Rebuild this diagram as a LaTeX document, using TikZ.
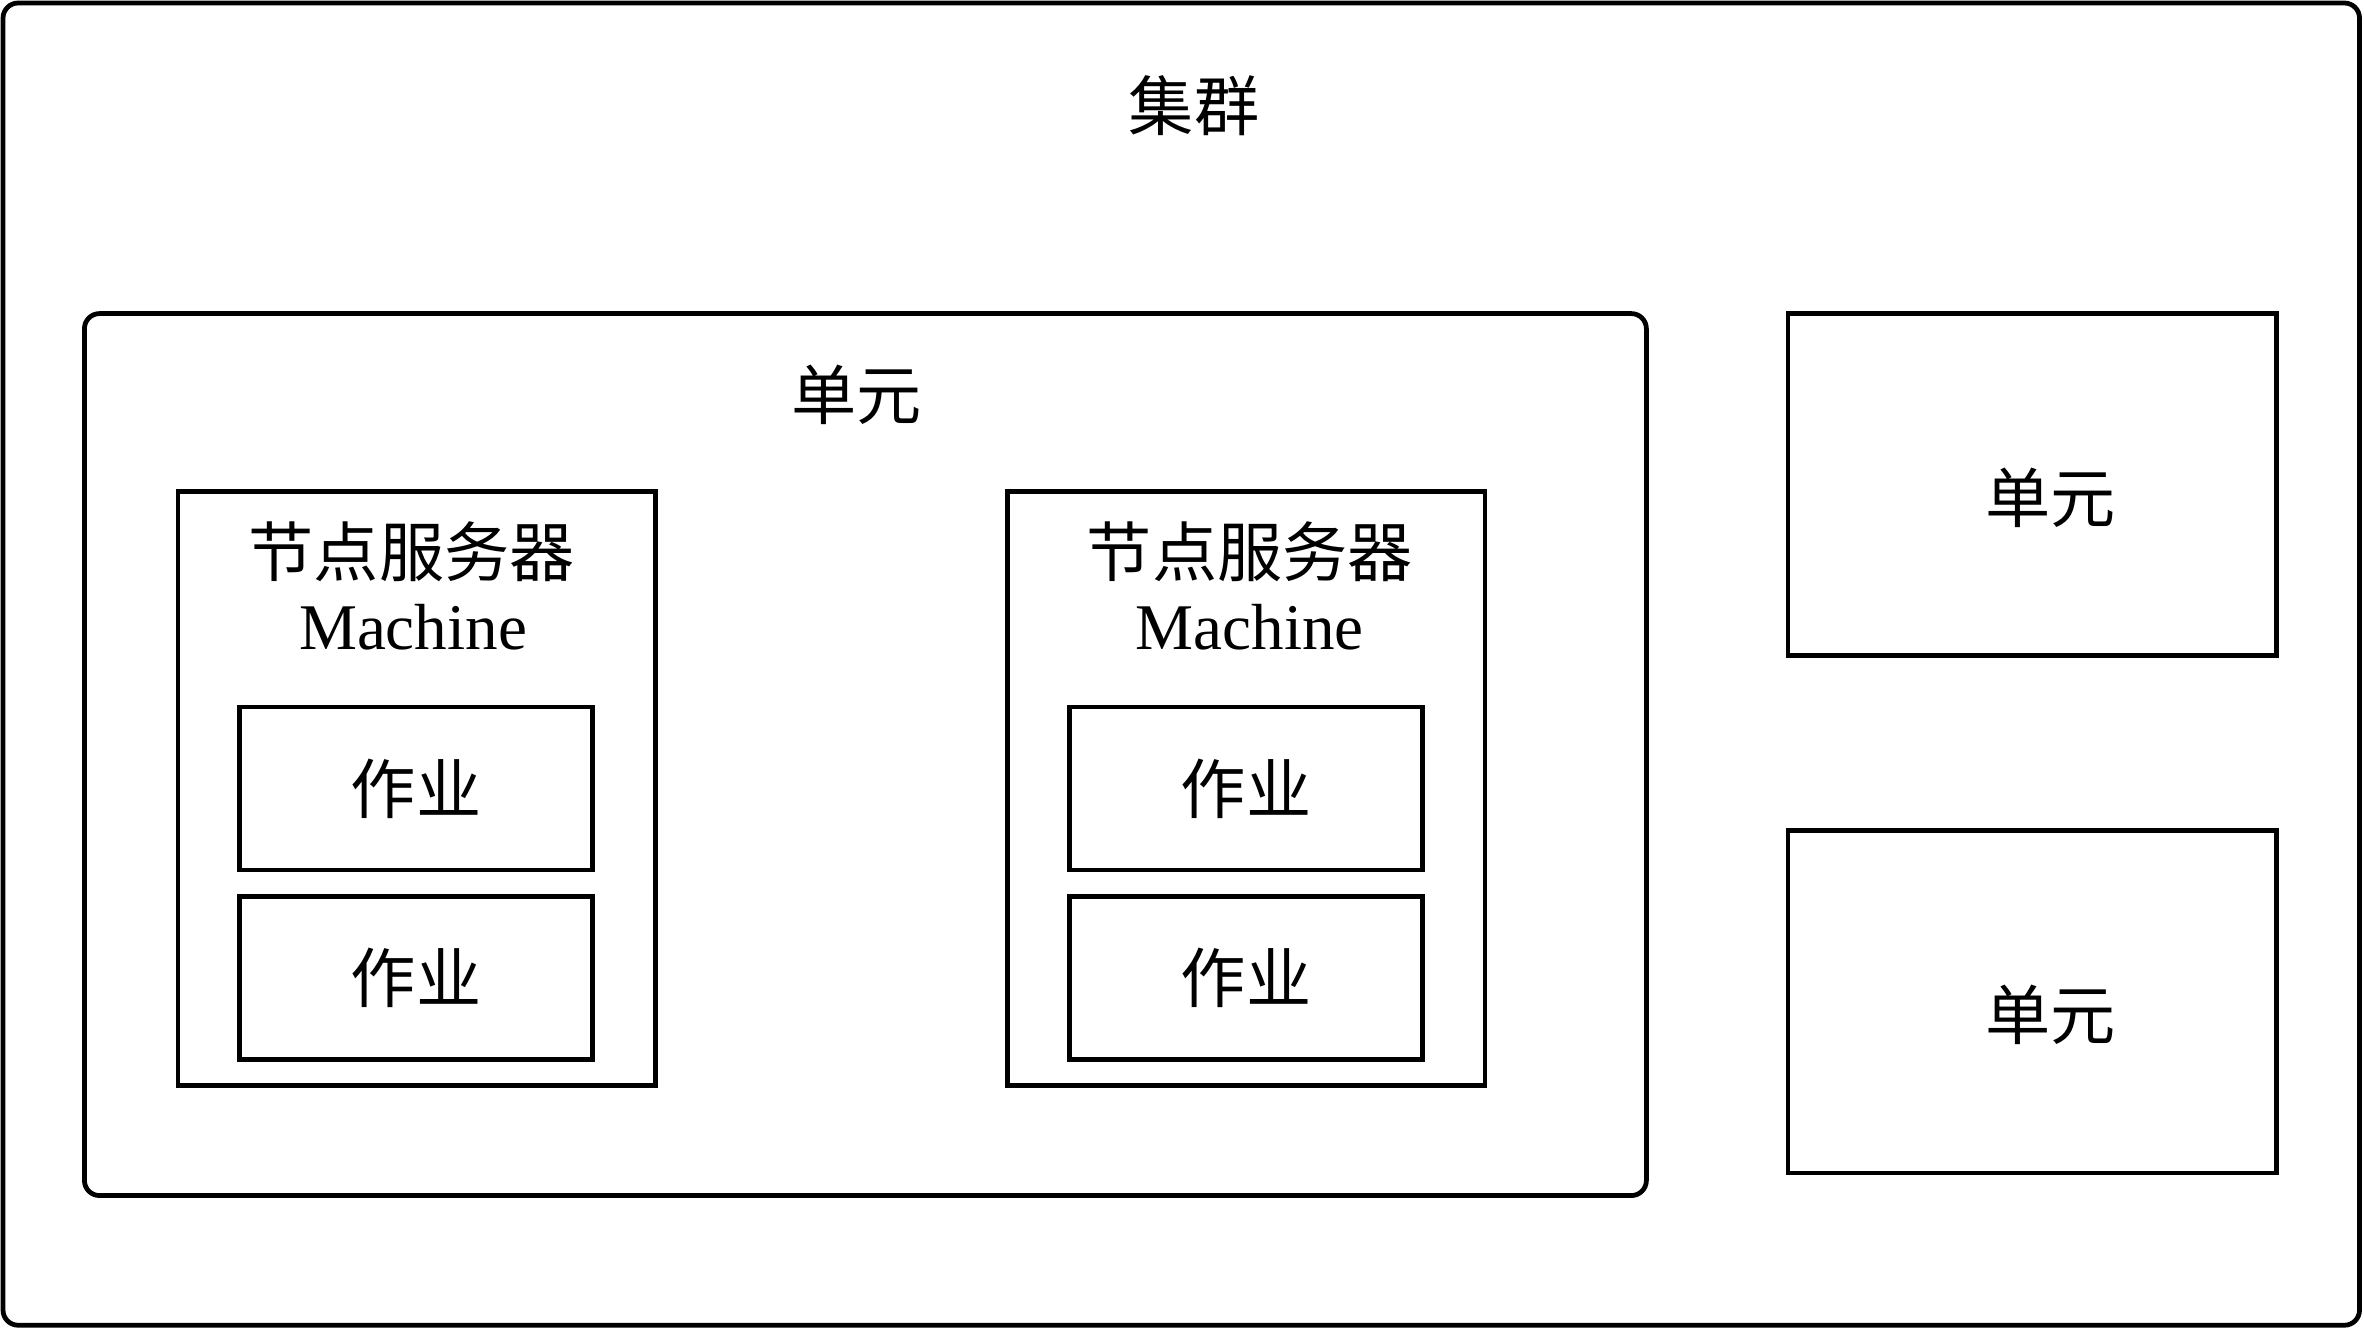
\documentclass[tikz,border=0pt]{standalone}
\usepackage{fontspec}
\setmainfont{Liberation Serif}
\newfontfamily\cjk{Noto Sans CJK SC}
\usetikzlibrary{positioning}

\begin{document}
\begin{tikzpicture}[line width=0.9pt, font=\fontsize{12.3}{15}\selectfont]
  \tikzstyle{frame}=[draw, rectangle, rounded corners=0.1cm, inner sep=0pt]
  \tikzstyle{box}=[draw, rectangle, inner sep=0pt]
  \tikzstyle{machinebox}=[box, minimum width=3.17cm, minimum height=3.94cm]
  \tikzstyle{jobbox}=[box, minimum width=2.34cm, minimum height=1.08cm]
  \tikzstyle{unitbox}=[box, minimum width=3.24cm, minimum height=2.27cm]
  \tikzstyle{heading}=[inner sep=0pt]

  \useasboundingbox (0,0) rectangle (15.68,-8.81);

  % cluster
  \node[frame, minimum width=15.63cm, minimum height=8.77cm] (cluster) at (7.835,-4.405) {};
  \node[heading] (clustername) at (7.92,-0.70) {\cjk 集群};

  % first unit
  \node[frame, minimum width=10.36cm, minimum height=5.85cm] (unitA) at (5.74,-5.005) {};
  \node[heading] (unitAname) at (5.68,-2.62) {\cjk 单元};

  \node[machinebox] (M1) at (2.765,-5.23) {};
  \node[heading] (M1name) at (2.73,-3.66) {\cjk 节点服务器};
  \node[heading] (M1en) at (2.74,-4.16) {Machine};
  \node[jobbox] (J11) at (2.76,-5.23) {\cjk 作业};
  \node[jobbox] (J12) at (2.76,-6.485) {\cjk 作业};

  \node[machinebox] (M2) at (8.265,-5.23) {};
  \node[heading] (M2name) at (8.29,-3.66) {\cjk 节点服务器};
  \node[heading] (M2en) at (8.29,-4.16) {Machine};
  \node[jobbox] (J21) at (8.265,-5.23) {\cjk 作业};
  \node[jobbox] (J22) at (8.265,-6.485) {\cjk 作业};

  % other units
  \node[unitbox] (unitB) at (13.48,-3.215) {};
  \node[heading] (unitBname) at (13.60,-3.30) {\cjk 单元};
  \node[unitbox] (unitC) at (13.48,-6.645) {};
  \node[heading] (unitCname) at (13.60,-6.73) {\cjk 单元};
\end{tikzpicture}
\end{document}
